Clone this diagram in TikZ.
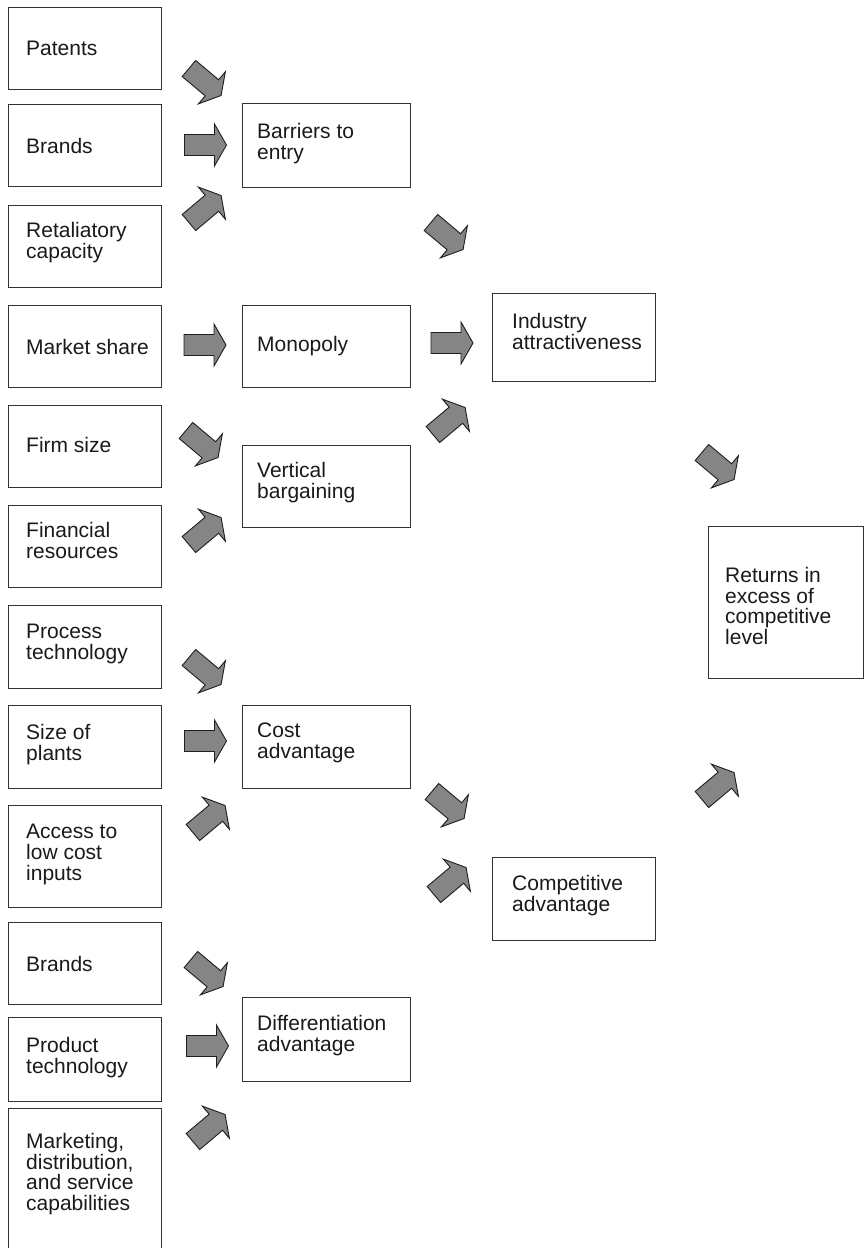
\documentclass[tikz,border=0pt]{standalone}
\usepackage{fontspec}
\setmainfont{Liberation Sans}
\definecolor{boxline}{HTML}{333333}
\definecolor{textcol}{HTML}{1A1A1A}
\definecolor{arrowgray}{HTML}{858585}
\definecolor{arrowline}{HTML}{1E1E1E}
\begin{document}
\begin{tikzpicture}[x=1pt,y=-1pt,
  box/.style={draw=boxline, line width=1.1pt, fill=white, inner sep=0pt, anchor=north west},
  txt/.style={inner sep=0pt, align=left, font=\fontsize{21}{20.7}\selectfont, text=textcol},
  blockarrow/.pic={\draw[fill=arrowgray, draw=arrowline, line width=0.9pt, line join=miter]
     (-21,-10.5) -- (9,-10.5) -- (9,-21) -- (21,0) -- (9,21) -- (9,10.5) -- (-21,10.5) -- cycle;}
]
\useasboundingbox (0,0) rectangle (865,1248);
\begin{scope}
\clip (0,0) rectangle (865,1248);
% ---------- left column ----------
\node[box, minimum width=153pt, minimum height=82pt] (patents) at (8,7) {};
\node[box, minimum width=153pt, minimum height=82pt] (brandsA) at (8,104) {};
\node[box, minimum width=153pt, minimum height=82pt] (retal) at (8,205) {};
\node[box, minimum width=153pt, minimum height=82pt] (market) at (8,305) {};
\node[box, minimum width=153pt, minimum height=82pt] (firm) at (8,405) {};
\node[box, minimum width=153pt, minimum height=82pt] (fin) at (8,505) {};
\node[box, minimum width=153pt, minimum height=83pt] (process) at (8,605) {};
\node[box, minimum width=153pt, minimum height=83pt] (plants) at (8,705) {};
\node[box, minimum width=153pt, minimum height=102pt] (access) at (8,805) {};
\node[box, minimum width=153pt, minimum height=82pt] (brandsB) at (8,922) {};
\node[box, minimum width=153pt, minimum height=84pt] (product) at (8,1017) {};
\node[box, minimum width=153pt, minimum height=150pt] (marketing) at (8,1108) {};

\node[txt, anchor=west] at ([xshift=18pt]patents.west) {Patents};
\node[txt, anchor=west] at ([xshift=18pt]brandsA.west) {Brands};
\node[txt, anchor=north west] at ([xshift=18pt,yshift=-17pt]retal.north west) {Retaliatory\\capacity};
\node[txt, anchor=west] at ([xshift=18pt]market.west) {Market share};
\node[txt, anchor=west] at ([xshift=18pt,yshift=2pt]firm.west) {Firm size};
\node[txt, anchor=north west] at ([xshift=18pt,yshift=-17pt]fin.north west) {Financial\\resources};
\node[txt, anchor=north west] at ([xshift=18pt,yshift=-19pt]process.north west) {Process\\technology};
\node[txt, anchor=north west] at ([xshift=18pt,yshift=-19pt]plants.north west) {Size of\\plants};
\node[txt, anchor=north west] at ([xshift=18pt,yshift=-19pt]access.north west) {Access to\\low cost\\inputs};
\node[txt, anchor=west] at ([xshift=18pt]brandsB.west) {Brands};
\node[txt, anchor=north west] at ([xshift=18pt,yshift=-20pt]product.north west) {Product\\technology};
\node[txt, anchor=north west] at ([xshift=18pt,yshift=-25pt]marketing.north west) {Marketing,\\distribution,\\and service\\capabilities};

% ---------- middle column ----------
\node[box, minimum width=168pt, minimum height=84pt] (barriers) at (242,103) {};
\node[box, minimum width=168pt, minimum height=82pt] (monopoly) at (242,305) {};
\node[box, minimum width=168pt, minimum height=82pt] (vertical) at (242,445) {};
\node[box, minimum width=168pt, minimum height=83pt] (cost) at (242,705) {};
\node[box, minimum width=168pt, minimum height=84pt] (diff) at (242,997) {};

\node[txt, anchor=north west] at ([xshift=15pt,yshift=-20pt]barriers.north west) {Barriers to\\entry};
\node[txt, anchor=west] at ([xshift=15pt]monopoly.west) {Monopoly};
\node[txt, anchor=north west] at ([xshift=15pt,yshift=-17pt]vertical.north west) {Vertical\\bargaining};
\node[txt, anchor=north west] at ([xshift=15pt,yshift=-18pt]cost.north west) {Cost\\advantage};
\node[txt, anchor=north west] at ([xshift=15pt,yshift=-18pt]diff.north west) {Differentiation\\advantage};

% ---------- third column ----------
\node[box, minimum width=163pt, minimum height=88pt] (industry) at (492,293) {};
\node[box, minimum width=163pt, minimum height=83pt] (competitive) at (492,857) {};
\node[txt, anchor=north west] at ([xshift=20pt,yshift=-20pt]industry.north west) {Industry\\attractiveness};
\node[txt, anchor=north west] at ([xshift=20pt,yshift=-18pt]competitive.north west) {Competitive\\advantage};

% ---------- returns ----------
\node[box, minimum width=155pt, minimum height=152pt] (returns) at (708,526) {};
\node[txt, anchor=north west] at ([xshift=17pt,yshift=-41pt]returns.north west) {Returns in\\excess of\\competitive\\level};

% ---------- block arrows ----------
\pic[rotate=-40] at (205,82) {blockarrow};
\pic at (205.5,145) {blockarrow};
\pic[rotate=40] at (205,209) {blockarrow};
\pic at (205,345) {blockarrow};
\pic[rotate=-40] at (202,444) {blockarrow};
\pic[rotate=40] at (205,531) {blockarrow};
\pic[rotate=-40] at (205,671) {blockarrow};
\pic at (205.5,741) {blockarrow};
\pic[rotate=40] at (209,819) {blockarrow};
\pic[rotate=-40] at (207,973) {blockarrow};
\pic at (207.5,1046) {blockarrow};
\pic[rotate=40] at (209,1128) {blockarrow};

\pic[rotate=-40] at (447,236) {blockarrow};
\pic at (452,343) {blockarrow};
\pic[rotate=40] at (449,421) {blockarrow};
\pic[rotate=-40] at (448,805) {blockarrow};
\pic[rotate=40] at (450,881) {blockarrow};

\pic[rotate=-40] at (718,466) {blockarrow};
\pic[rotate=40] at (718,786) {blockarrow};
\end{scope}
\end{tikzpicture}
\end{document}
